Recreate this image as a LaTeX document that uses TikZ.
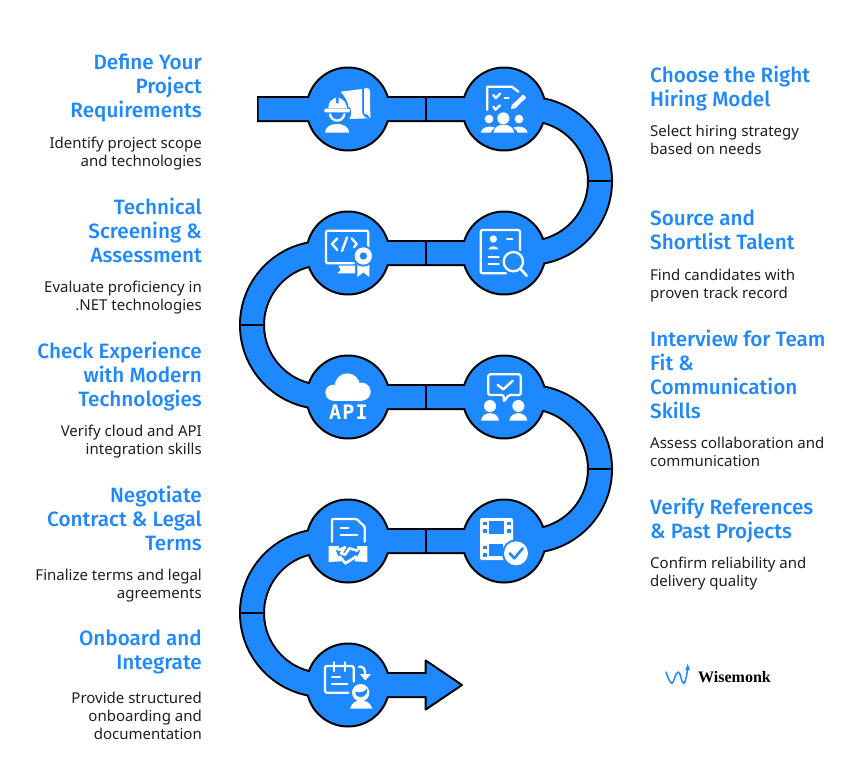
\documentclass[tikz,border=0pt]{standalone}
\usepackage{fontspec}
\setmainfont{Noto Sans}
\newfontfamily\hdfont{Fira Sans Medium}
\newfontfamily\logofont{Liberation Serif Bold}
\newfontfamily\apifont{DejaVu Sans Mono Bold}[LetterSpace=6]
\definecolor{wblue}{HTML}{1E88FF}
\definecolor{wtext}{HTML}{1F1F1F}
\tikzset{
  z/.style 2 args={shift={(#1,#2)},x=.33333pt,y=-.33333pt},
  head/.style={inner sep=0pt,text=wblue,font=\hdfont\fontsize{20.7}{24}\selectfont},
  headL/.style={head,anchor=north east,align=right},
  headR/.style={head,anchor=north west,align=left},
  body/.style={inner sep=0pt,text=wtext,font=\fontsize{15}{18}\selectfont},
  bodyL/.style={body,anchor=north east,align=right},
  bodyR/.style={body,anchor=north west,align=left},
  disc/.style={circle,draw=black,line width=2pt,fill=wblue,minimum size=83pt,inner sep=0pt},
  ln/.style={draw=white,line width=2.3pt,line cap=round,line join=round,fill=none},
  sep/.style={draw=black,line width=1.6pt},
}
\begin{document}
\begin{tikzpicture}[x=1pt,y=-1pt]
\useasboundingbox (0,0) rectangle (864,769);
\fill[white] (0,0) rectangle (864,769);
% ribbon
\draw[black,line width=26pt] (257,109) -- (528,109) arc[start angle=-90,end angle=90,radius=72] -- (324,253) arc[start angle=-90,end angle=-270,radius=72] -- (528,397) arc[start angle=-90,end angle=90,radius=72] -- (324,541) arc[start angle=-90,end angle=-270,radius=72] -- (426,685);
\node[disc] (c1) at (348,109) {};
\node[disc] (c2) at (504,109) {};
\node[disc] (c3) at (504,253) {};
\node[disc] (c4) at (348,253) {};
\node[disc] (c5) at (348,397) {};
\node[disc] (c6) at (504,397) {};
\node[disc] (c7) at (504,541) {};
\node[disc] (c8) at (348,541) {};
\node[disc] (c9) at (348,685) {};
\draw[draw=black,line width=2pt,fill=wblue,line join=round] (425.7,685) -- (425.7,660.5) -- (462,685) -- (425.7,709.5) -- cycle;
\draw[wblue,line width=22pt] (258.5,109) -- (528,109) arc[start angle=-90,end angle=90,radius=72] -- (324,253) arc[start angle=-90,end angle=-270,radius=72] -- (528,397) arc[start angle=-90,end angle=90,radius=72] -- (324,541) arc[start angle=-90,end angle=-270,radius=72] -- (428,685);
% separators
\draw[sep] (426,97) -- (426,121);
\draw[sep] (426,241) -- (426,265);
\draw[sep] (426,385) -- (426,409);
\draw[sep] (426,529) -- (426,553);
\draw[sep] (588,181) -- (612,181);
\draw[sep] (588,469) -- (612,469);
\draw[sep] (240,325) -- (264,325);
\draw[sep] (240,613) -- (264,613);

% --- zoom-1 icons
\begin{scope}[z={250}{50}]
 % engineer
 \fill[white] (235,175) .. controls (235,155) and (245,148) .. (258,143) -- (258,160) -- (266,160) -- (266,143) .. controls (280,148) and (290,158) .. (291,175) -- cycle;
 \fill[white,rounded corners=1.5pt] (222,176) rectangle (300,187);
 \draw[ln] (240,193) .. controls (245,218) and (278,218) .. (283,193);
 \fill[white] (225,248) .. controls (226,232) and (240,222) .. (260,222) .. controls (282,222) and (296,232) .. (298,248) -- cycle;
 \fill[white] (272,125) -- (336,117) -- (336,185) .. controls (336,195) and (345,204) .. (356,205) -- (298,207) .. controls (306,195) and (304,178) .. (300,172) -- (296,172) .. controls (294,155) and (285,140) .. (272,125) -- cycle;
 \fill[white] (342,116) .. controls (352,112) and (360,115) .. (360,125) -- (361,205) -- (353,195) -- (342,190) -- cycle;
 % checklist
 \draw[ln] (712,180) -- (712,110) -- (785,110) -- (805,125);
 \draw[ln] (730,135) -- (737,144) -- (750,131);
 \draw[ln] (764,143) -- (776,143);
 \draw[ln] (730,170) -- (737,179) -- (750,166);
 \draw[white,line width=4.5pt] (793,168) -- (824,138);
 \fill[white] (783,177) -- (786,162) -- (799,174) -- cycle;
 \fill[white] (717,207) circle[radius=13];
 \fill[white] (760,205) circle[radius=18];
 \fill[white] (807,207) circle[radius=13];
 \fill[white] (730,248) .. controls (733,232) and (745,224) .. (760,224) .. controls (776,224) and (790,232) .. (793,248) -- cycle;
 \fill[white] (692,248) .. controls (695,236) and (706,230) .. (718,230) .. controls (724,230) and (730,231) .. (735,233) .. controls (729,237) and (724,242) .. (722,248) -- cycle;
 \fill[white] (833,248) .. controls (830,236) and (819,230) .. (807,230) .. controls (801,230) and (795,231) .. (790,233) .. controls (796,237) and (801,242) .. (803,248) -- cycle;
 % code monitor
 \draw[ln,rounded corners=2pt] (355,595) -- (355,542) -- (228,542) -- (228,640) -- (312,640);
 \fill[white] (265,647) -- (315,647) -- (315,670) -- (262,670) -- (272,660) -- cycle;
 \draw[ln] (262,565) -- (246,582) -- (262,600);
 \draw[ln] (291,562) -- (276,603);
 \draw[ln] (305,565) -- (320,582) -- (312,592);
 \fill[white] (322,640) -- (322,681) -- (340,667) -- (358,681) -- (358,640) -- cycle;
 \fill[wblue] (340,618) circle[radius=32];
 \fill[white] (340,618) circle[radius=26];
 \fill[wblue] (340,618) circle[radius=11];
 % profile search
 \draw[ln,rounded corners=2pt] (810,600) -- (810,540) -- (692,540) -- (692,670) -- (768,670);
 \fill[white] (730,567) circle[radius=11];
 \fill[white] (715,598) .. controls (717,586) and (743,586) .. (745,598) -- cycle;
 \draw[ln] (771,567) -- (787,567);
 \draw[ln] (716,620) -- (746,620);
 \draw[ln] (716,643) -- (746,643);
 \fill[wblue] (790,635) circle[radius=33];
 \draw[ln] (790,635) circle[radius=29];
 \draw[ln,line width=2.6pt] (812,657) -- (830,677);
\end{scope}

% --- zoom-2 icons
\begin{scope}[z={230}{340}]
 % cloud
 \fill[white] (310,158) circle[radius=24];
 \fill[white] (352,138) circle[radius=38];
 \fill[white] (395,155) circle[radius=27];
 \fill[white] (310,150) rectangle (395,182);
 % bubble
 \draw[ln,rounded corners=1.5pt] (775,103) -- (872,103) -- (872,165) -- (836,165) -- (821,186) -- (821,165) -- (775,165) -- cycle;
 \draw[ln,line width=2.4pt] (803,135) -- (820,148) -- (848,122);
 \fill[white] (780,198) circle[radius=18];
 \fill[white] (865,198) circle[radius=18];
 \fill[white] (753,242) .. controls (756,212) and (804,212) .. (807,242) -- cycle;
 \fill[white] (838,242) .. controls (841,212) and (889,212) .. (892,242) -- cycle;
 % contract
 \draw[ln,rounded corners=1pt] (306,605) -- (306,537) -- (380,537) -- (404,560) -- (404,605);
 \draw[ln] (332,563) -- (355,563);
 \draw[ln] (332,585) -- (382,585);
 \fill[white] (296,618) -- (326,618) -- (334,664) -- (296,666) -- cycle;
 \fill[white] (412,618) -- (382,618) -- (374,664) -- (412,666) -- cycle;
 \fill[wblue] (318,632) -- (330,625) -- (340,640) -- (326,650) -- cycle;
 \fill[wblue] (390,632) -- (378,625) -- (368,640) -- (382,650) -- cycle;
 \draw[ln,line width=2.6pt] (326,630) -- (345,622) -- (333,640) -- (345,644) -- (358,625) -- (382,632);
 \draw[ln,line width=2.6pt] (330,650) -- (346,670) -- (378,650);
 % film
 \fill[white,rounded corners=2pt] (750,534) rectangle (849,660);
 \fill[wblue] (778,543) rectangle (822,582);
 \fill[wblue] (778,613) rectangle (820,648);
 \fill[wblue] (759,545) rectangle (770,555);
 \fill[wblue] (759,568) rectangle (770,578);
 \fill[wblue] (759,617) rectangle (770,627);
 \fill[wblue] (759,640) rectangle (770,650);
 \fill[wblue] (831,545) rectangle (842,555);
 \fill[wblue] (831,568) rectangle (842,578);
 \fill[wblue] (858,640) circle[radius=42];
 \fill[white] (858,640) circle[radius=36];
 \draw[draw=wblue,line width=2.6pt,line cap=round,line join=round] (839,640) -- (853,655) -- (878,625);
\end{scope}
\node[inner sep=0pt,text=white,font=\apifont\fontsize{20}{20}\selectfont] (apilabel) at (348.5,412.5) {API};

% --- zoom-3 icon
\begin{scope}[z={230}{560}]
 \draw[ln,rounded corners=2pt] (371,365) -- (371,318) -- (285,318) -- (285,398) -- (355,398);
 \draw[ln] (312,307) -- (312,333);
 \draw[ln] (345,307) -- (345,333);
 \draw[ln] (306,350) -- (330,350);
 \draw[ln] (306,371) -- (352,371);
 \draw[ln] (387,320) .. controls (400,318) and (407,328) .. (405,345);
 \fill[white] (389,342) -- (423,342) -- (406,361) -- cycle;
 \fill[white] (392,398) circle[radius=26];
 \fill[wblue] (375,395) .. controls (388,400) and (405,396) .. (411,385) .. controls (415,402) and (402,411) .. (392,411) .. controls (382,411) and (374,404) .. (375,395) -- cycle;
 \fill[white] (360,446) .. controls (365,428) and (378,421) .. (392,421) .. controls (408,421) and (422,428) .. (427,446) -- cycle;
\end{scope}

% --- logo
\begin{scope}[z={650}{650}]
 \draw[draw=wblue,line width=1.5pt,line cap=round,line join=round] (48,66) .. controls (56,90) and (62,100) .. (66,100) .. controls (72,100) and (75,66) .. (85,66) .. controls (92,66) and (94,100) .. (101,100) .. controls (107,100) and (110,75) .. (113,55);
 \fill[wblue] (113,42) -- (120,60) -- (106,60) -- cycle;
\end{scope}
\node[anchor=base west,inner sep=0pt,text=black,font=\logofont\fontsize{16}{16}\selectfont] (logo) at (698,682) {Wisemonk};

% --- texts left
\node[headL] (t1) at (202,54) {Define Your\\Project\\Requirements};
\node[bodyL] (b1) at (202,137) {Identify project scope\\and technologies};
\node[headL] (t4) at (202,198) {Technical\\Screening \&\\Assessment};
\node[bodyL] (b4) at (202,281) {Evaluate proficiency in\\.NET technologies};
\node[headL] (t5) at (202,342) {Check Experience\\with Modern\\Technologies};
\node[bodyL] (b5) at (202,425) {Verify cloud and API\\integration skills};
\node[headL] (t8) at (202,486) {Negotiate\\Contract \& Legal\\Terms};
\node[bodyL] (b8) at (202,569) {Finalize terms and legal\\agreements};
\node[headL] (t9) at (202,630) {Onboard and\\Integrate};
\node[bodyL] (b9) at (202,692) {Provide structured\\onboarding and\\documentation};
% --- texts right
\node[headR] (t2) at (650,66) {Choose the Right\\Hiring Model};
\node[bodyR] (b2) at (650,125) {Select hiring strategy\\based on needs};
\node[headR] (t3) at (650,210) {Source and\\Shortlist Talent};
\node[bodyR] (b3) at (650,269) {Find candidates with\\proven track record};
\node[headR] (t6) at (650,330) {Interview for Team\\Fit \&\\Communication\\Skills};
\node[bodyR] (b6) at (650,437) {Assess collaboration and\\communication};
\node[headR] (t7) at (650,498) {Verify References\\\& Past Projects};
\node[bodyR] (b7) at (650,557) {Confirm reliability and\\delivery quality};
\end{tikzpicture}
\end{document}
